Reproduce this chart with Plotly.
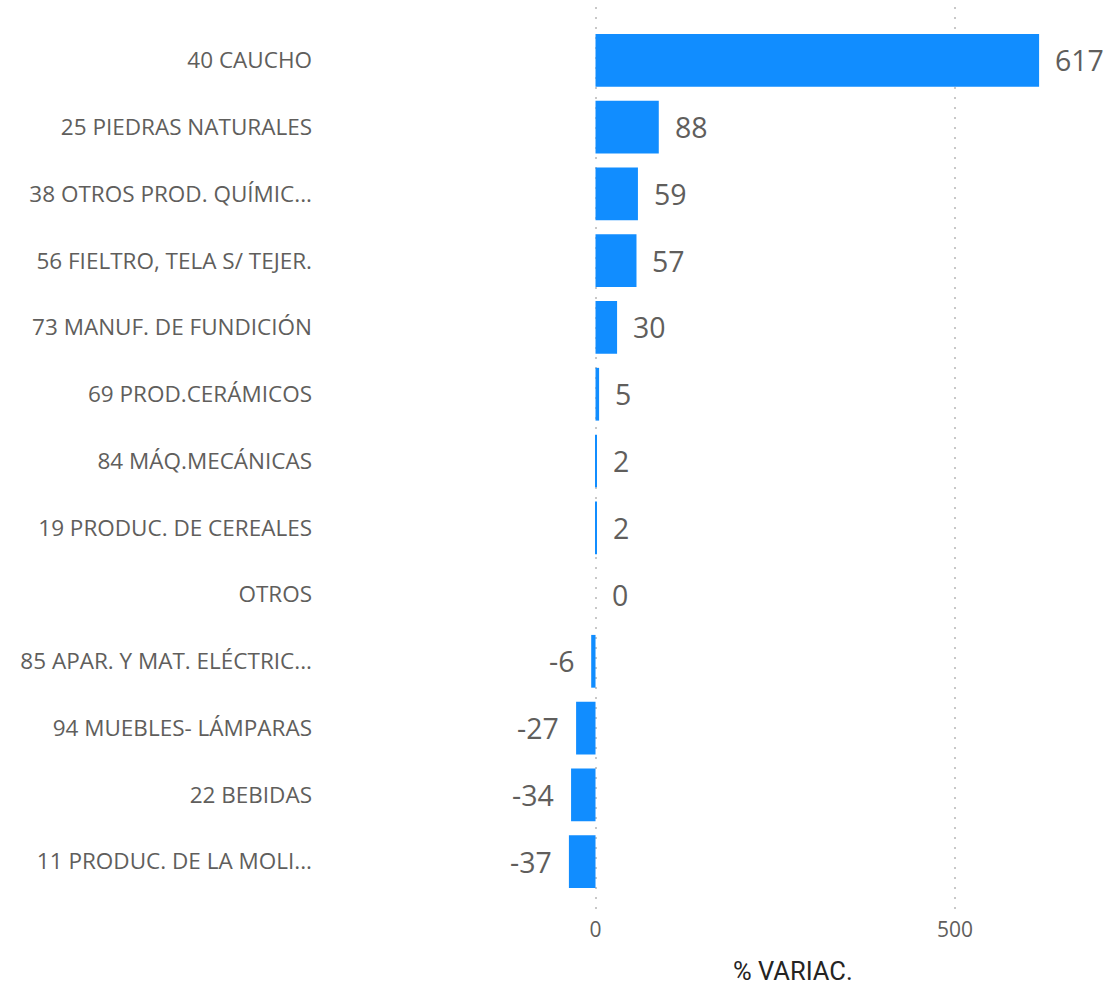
import plotly.graph_objects as go

categories = [
    "40 CAUCHO",
    "25 PIEDRAS NATURALES",
    "38 OTROS PROD. QUÍMIC...",
    "56 FIELTRO, TELA S/ TEJER.",
    "73 MANUF. DE FUNDICIÓN",
    "69 PROD.CERÁMICOS",
    "84 MÁQ.MECÁNICAS",
    "19 PRODUC. DE CEREALES",
    "OTROS",
    "85 APAR. Y MAT. ELÉCTRIC...",
    "94 MUEBLES- LÁMPARAS",
    "22 BEBIDAS",
    "11 PRODUC. DE LA MOLI...",
]
values = [617, 88, 59, 57, 30, 5, 2, 2, 0, -6, -27, -34, -37]
x_tick_vals = [0, 500]
x_tick_text = ["0", "500"]

BAR = "#118DFF"
GRAY = "#605E5C"

fig = go.Figure()
fig.add_trace(go.Bar(
    y=categories, x=values, orientation="h",
    marker=dict(color=BAR, line=dict(width=0)),
    width=0.79, hoverinfo="skip",
))

for c, v in zip(categories, values):
    fig.add_annotation(
        x=v, y=c, xref="x", yref="y", text=str(v), showarrow=False,
        xanchor="right" if v < 0 else "left",
        xshift=-15 if v < 0 else 14,
        font=dict(family="Open Sans", size=28.5, color=GRAY),
    )

fig.add_annotation(
    x=0.601, y=0, xref="paper", yref="paper", yshift=-56,
    text="% VARIAC.", showarrow=False, xanchor="center", yanchor="middle",
    font=dict(family="Roboto", size=25.5, color="#252423"),
)

fig.update_layout(
    width=1105, height=986,
    margin=dict(l=330, r=5, t=7, b=71),
    paper_bgcolor="white", plot_bgcolor="white",
    showlegend=False,
    xaxis=dict(
        range=[-369.3, 701.7], tickvals=x_tick_vals, ticktext=x_tick_text,
        showgrid=True, gridcolor="#C8C8C8", griddash="2px,8px", gridwidth=1.5,
        zeroline=False, showline=False, ticks="",
        tickfont=dict(family="Open Sans", size=21, color=GRAY),
    ),
    yaxis=dict(
        type="category", categoryorder="array", categoryarray=categories,
        range=[12.8, -0.8], showgrid=False, zeroline=False, ticks="",
        ticklabelstandoff=17,
        tickfont=dict(family="Open Sans", size=22.5, color=GRAY),
    ),
)

fig.write_html("out.html", config={"displayModeBar": False},
               post_script="document.body.style.margin='0';")
